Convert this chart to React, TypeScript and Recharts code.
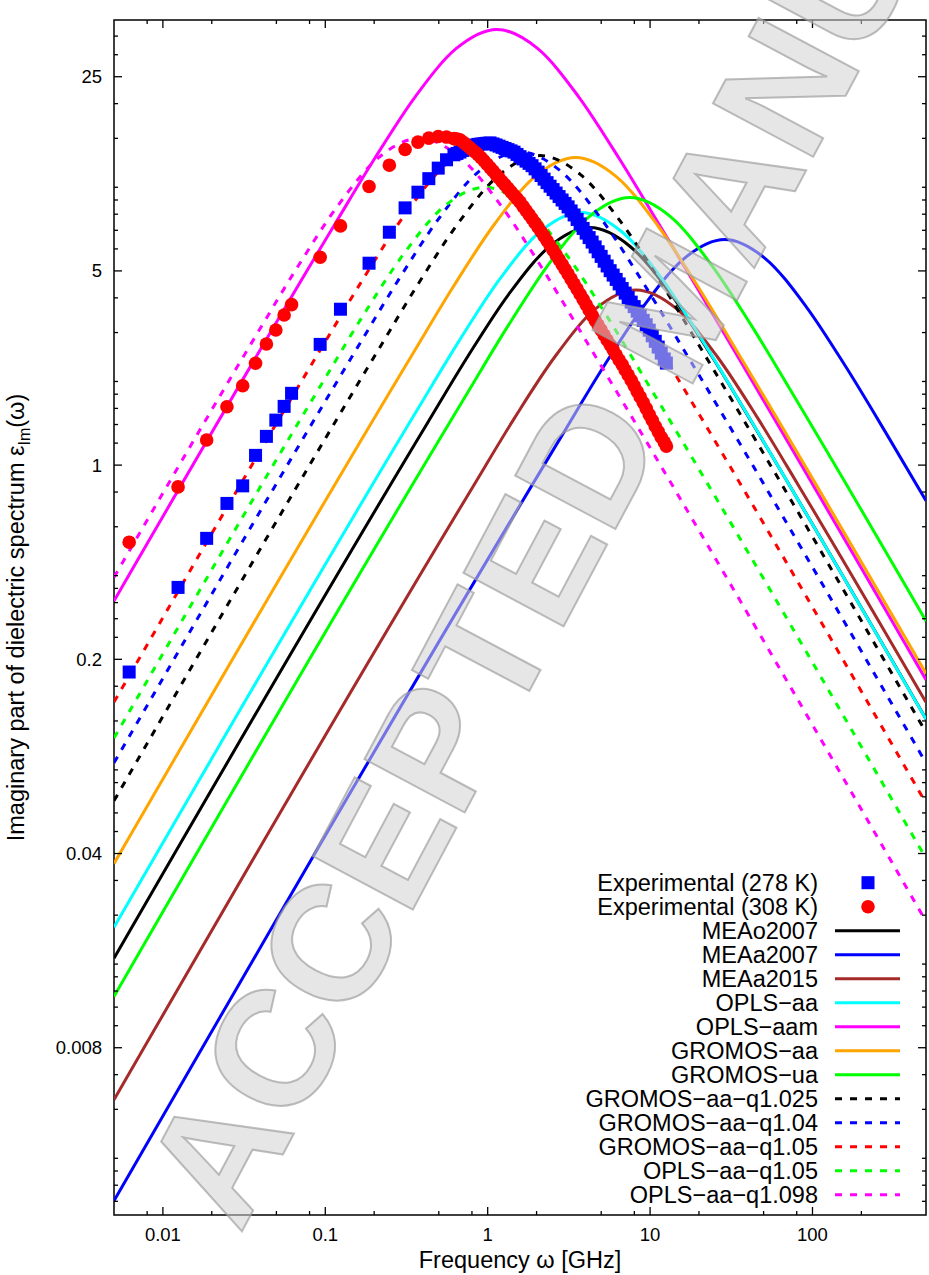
import React from "react";
import {
  ComposedChart,
  Line,
  Scatter,
  XAxis,
  YAxis,
  Legend,
  ReferenceArea,
  Label,
} from "recharts";

// plot frame in page pixels
const PLOT_TOP = 20;
const PLOT_BOTTOM = 1215;
const PLOT_LEFT = 114;
const PLOT_RIGHT = 926;
const FONT = "'Liberation Sans', Arial, Helvetica, sans-serif";

// axis ticks
const xMajor = [0.01, 0.1, 1, 10, 100];
const xMajorLabels = ["0.01", "0.1", "1", "10", "100"];
const xMinor = [0.008, 0.02, 0.05, 0.08, 0.2, 0.5, 0.8, 2, 5, 8, 20, 50, 80, 200];
const yMajor = [0.008, 0.04, 0.2, 1, 5, 25];
const yMajorLabels = ["0.008", "0.04", "0.2", "1", "5", "25"];
const yMinor = [
  0.00224, 0.00256, 0.00288, 0.0032, 0.0048, 0.0064, 0.0096, 0.0112, 0.0128,
  0.0144, 0.016, 0.024, 0.032, 0.048, 0.056, 0.064, 0.072, 0.08, 0.12, 0.16,
  0.24, 0.28, 0.32, 0.36, 0.4, 0.6, 0.8, 1.2, 1.4, 1.6, 1.8, 2, 3, 4, 6, 7, 8,
  9, 10, 15, 20, 30, 35,
];

// experimental spectra (GHz, eps'')
const expFreq = [
  0.0062, 0.0124, 0.0186, 0.0248, 0.031, 0.0372, 0.0434, 0.0496, 0.0558, 0.062,
  0.093, 0.124, 0.186, 0.248, 0.31, 0.372, 0.434, 0.496, 0.558,
  0.62, 0.647, 0.675, 0.704, 0.735, 0.767, 0.8, 0.835, 0.872, 0.91,
  0.949, 0.99, 1.034, 1.079, 1.126, 1.175, 1.226, 1.279, 1.334, 1.392,
  1.453, 1.516, 1.582, 1.651, 1.723, 1.798, 1.876, 1.958, 2.043, 2.132,
  2.225, 2.321, 2.422, 2.528, 2.638, 2.752, 2.872, 2.997, 3.128, 3.264,
  3.406, 3.554, 3.708, 3.87, 4.038, 4.214, 4.397, 4.588, 4.788, 4.997,
  5.214, 5.441, 5.677, 5.924, 6.182, 6.451, 6.732, 7.025, 7.33, 7.649,
  7.982, 8.329, 8.692, 9.07, 9.464, 9.878, 10.31, 10.76, 11.22, 11.71,
  12.22, 12.6,
];
const exp278 = [
  0.18, 0.363, 0.545, 0.728, 0.842, 1.084, 1.269, 1.452, 1.627, 1.813,
  2.72, 3.64, 5.33, 6.89, 8.43, 9.6, 10.74, 11.72, 12.56,
  13.09, 13.24, 13.39, 13.57, 13.75, 13.93, 14.12, 14.2, 14.27, 14.31,
  14.36, 14.4, 14.44, 14.32, 14.2, 14.06, 13.92, 13.79, 13.66, 13.52,
  13.38, 13.13, 12.89, 12.65, 12.42, 12.19, 11.96, 11.65, 11.34, 11.02,
  10.7, 10.39, 10.09, 9.81, 9.53, 9.26, 9.0, 8.75, 8.5, 8.22,
  7.95, 7.66, 7.38, 7.11, 6.84, 6.59, 6.35, 6.1, 5.86, 5.64,
  5.42, 5.21, 5.01, 4.83, 4.66, 4.49, 4.32, 4.16, 4.01, 3.86,
  3.72, 3.58, 3.45, 3.32, 3.2, 3.06, 2.92, 2.79, 2.66, 2.53,
  2.41, 2.33,
];
const exp308 = [
  0.528, 0.835, 1.231, 1.622, 1.931, 2.325, 2.729, 3.064, 3.47, 3.78,
  5.6, 7.26, 10.06, 12.01, 13.67, 14.54, 15.03, 15.23, 15.16,
  14.96, 14.9, 14.83, 14.55, 14.26, 13.96, 13.67, 13.39, 13.11, 12.78,
  12.46, 12.11, 11.77, 11.44, 11.11, 10.8, 10.49, 10.2, 9.91, 9.63,
  9.36, 9.1, 8.84, 8.54, 8.25, 7.97, 7.7, 7.44, 7.18, 6.92,
  6.67, 6.42, 6.17, 5.94, 5.71, 5.49, 5.28, 5.07, 4.87, 4.67,
  4.48, 4.3, 4.12, 3.95, 3.78, 3.62, 3.46, 3.32, 3.19, 3.06,
  2.94, 2.82, 2.71, 2.6, 2.49, 2.39, 2.3, 2.2, 2.11, 2.02,
  1.93, 1.84, 1.76, 1.68, 1.6, 1.52, 1.45, 1.38, 1.32, 1.26,
  1.21, 1.17,
];

// simulated spectra
const meaO2007Freq = [0.005, 0.426, 0.757, 1.347, 2.395, 4.26, 7.57, 13.47, 23.95, 42.6, 500];
const meaO2007Eps = [0.0168, 1.418, 2.47, 4.12, 6.11, 7.16, 6.11, 4.12, 2.47, 1.418, 0.122];

const meaA2007Freq = [0.005, 2.88, 5.12, 9.11, 16.19, 28.8, 51.2, 91.1, 161.9, 288, 500];
const meaA2007Eps = [0.00225, 1.285, 2.24, 3.73, 5.54, 6.49, 5.54, 3.73, 2.24, 1.285, 0.745];

const meaA2015Freq = [0.005, 0.82, 1.458, 2.593, 4.61, 8.2, 14.58, 25.93, 46.1, 82, 500];
const meaA2015Eps = [0.0052, 0.845, 1.473, 2.455, 3.65, 4.27, 3.65, 2.455, 1.473, 0.845, 0.14];

const oplsAaFreq = [0.005, 0.375, 0.667, 1.186, 2.109, 3.75, 6.67, 11.86, 21.09, 37.5, 500];
const oplsAaEps = [0.0217, 1.608, 2.8, 4.67, 6.93, 8.12, 6.93, 4.67, 2.8, 1.608, 0.1218];

const oplsAamFreq = [0.005, 0.114, 0.2027, 0.3605, 0.641, 1.14, 2.027, 3.605, 6.41, 11.4, 500];
const oplsAamEps = [0.3246, 7.33, 12.77, 21.3, 31.6, 37, 31.6, 21.3, 12.77, 7.33, 0.1687];

const gromosAaFreq = [0.005, 0.348, 0.619, 1.1, 1.957, 3.48, 6.19, 11.0, 19.57, 34.8, 500];
const gromosAaEps = [0.0368, 2.534, 4.42, 7.36, 10.93, 12.8, 10.93, 7.36, 4.42, 2.534, 0.178];

const gromosUaFreq = [0.005, 0.75, 1.334, 2.372, 4.22, 7.5, 13.34, 23.72, 42.2, 75, 500];
const gromosUaEps = [0.01224, 1.818, 3.17, 5.28, 7.84, 9.18, 7.84, 5.28, 3.17, 1.818, 0.275];

const gromosQ1025Freq = [0.005, 0.21, 0.373, 0.664, 1.181, 2.1, 3.73, 6.64, 11.81, 21, 500];
const gromosQ1025Eps = [0.0619, 2.574, 4.485, 7.475, 11.1, 13.0, 11.1, 7.475, 4.485, 2.574, 0.1092];

const gromosQ104Freq = [0.005, 0.158, 0.281, 0.4996, 0.888, 1.58, 2.81, 4.996, 8.88, 15.8, 500];
const gromosQ104Eps = [0.0848, 2.653, 4.623, 7.705, 11.44, 13.4, 11.44, 7.705, 4.623, 2.653, 0.0847];

const gromosQ105Freq = [0.005, 0.104, 0.185, 0.329, 0.585, 1.04, 1.849, 3.289, 5.848, 10.4, 500];
const gromosQ105Eps = [0.1404, 2.891, 5.037, 8.395, 12.47, 14.6, 12.47, 8.395, 5.037, 2.891, 0.0607];

const oplsQ105Freq = [0.005, 0.096, 0.1707, 0.3036, 0.54, 0.96, 1.707, 3.036, 5.4, 9.6, 500];
const oplsQ105Eps = [0.1042, 1.98, 3.45, 5.75, 8.54, 10.0, 8.54, 5.75, 3.45, 1.98, 0.0384];

const oplsQ1098Freq = [0.005, 0.038, 0.0676, 0.1202, 0.2137, 0.38, 0.676, 1.202, 2.137, 3.8, 500];
const oplsQ1098Eps = [0.3947, 2.97, 5.175, 8.625, 12.81, 15.0, 12.81, 8.625, 5.175, 2.97, 0.0228];

const toPoints = (f: number[], e: number[]) => f.map((x, i) => ({ f: x, v: e[i] }));

const experiments = [
  { name: "Experimental (278 K)", color: "#0000ff", shape: "square", data: toPoints(expFreq, exp278) },
  { name: "Experimental (308 K)", color: "#ff0000", shape: "circle", data: toPoints(expFreq, exp308) },
];

const models = [
  { name: "MEAo2007", color: "#000000", dashed: false, data: toPoints(meaO2007Freq, meaO2007Eps) },
  { name: "MEAa2007", color: "#0000ff", dashed: false, data: toPoints(meaA2007Freq, meaA2007Eps) },
  { name: "MEAa2015", color: "#a52a2a", dashed: false, data: toPoints(meaA2015Freq, meaA2015Eps) },
  { name: "OPLS\u2212aa", color: "#00ffff", dashed: false, data: toPoints(oplsAaFreq, oplsAaEps) },
  { name: "OPLS\u2212aam", color: "#ff00ff", dashed: false, data: toPoints(oplsAamFreq, oplsAamEps) },
  { name: "GROMOS\u2212aa", color: "#ffa500", dashed: false, data: toPoints(gromosAaFreq, gromosAaEps) },
  { name: "GROMOS\u2212ua", color: "#00ff00", dashed: false, data: toPoints(gromosUaFreq, gromosUaEps) },
  { name: "GROMOS\u2212aa\u2212q1.025", color: "#000000", dashed: true, data: toPoints(gromosQ1025Freq, gromosQ1025Eps) },
  { name: "GROMOS\u2212aa\u2212q1.04", color: "#0000ff", dashed: true, data: toPoints(gromosQ104Freq, gromosQ104Eps) },
  { name: "GROMOS\u2212aa\u2212q1.05", color: "#ff0000", dashed: true, data: toPoints(gromosQ105Freq, gromosQ105Eps) },
  { name: "OPLS\u2212aa\u2212q1.05", color: "#00ff00", dashed: true, data: toPoints(oplsQ105Freq, oplsQ105Eps) },
  { name: "OPLS\u2212aa\u2212q1.098", color: "#ff00ff", dashed: true, data: toPoints(oplsQ1098Freq, oplsQ1098Eps) },
];

const DASH = "7 8";

const Square = (props: any) => {
  const { cx, cy, fill } = props;
  if (cx == null || cy == null) return null;
  return <rect x={cx - 6.5} y={cy - 6.5} width={13} height={13} fill={fill} />;
};

const Dot = (props: any) => {
  const { cx, cy, fill } = props;
  if (cx == null || cy == null) return null;
  return <circle cx={cx} cy={cy} r={6.8} fill={fill} />;
};

const XTick = (props: any) => {
  const { x, payload } = props;
  const idx = xMajor.indexOf(payload.value);
  const len = idx >= 0 ? 8 : 4;
  return (
    <g>
      <line x1={x} x2={x} y1={PLOT_BOTTOM} y2={PLOT_BOTTOM - len} stroke="#000" strokeWidth={1.3} />
      <line x1={x} x2={x} y1={PLOT_TOP} y2={PLOT_TOP + len} stroke="#000" strokeWidth={1.3} />
      {idx >= 0 && (
        <text x={x} y={PLOT_BOTTOM + 26} textAnchor="middle" fontSize={18.5} fontFamily={FONT} fill="#000">
          {xMajorLabels[idx]}
        </text>
      )}
    </g>
  );
};

const YTick = (props: any) => {
  const { y, payload } = props;
  const idx = yMajor.indexOf(payload.value);
  const len = idx >= 0 ? 8 : 4;
  return (
    <g>
      <line x1={PLOT_LEFT} x2={PLOT_LEFT + len} y1={y} y2={y} stroke="#000" strokeWidth={1.3} />
      <line x1={PLOT_RIGHT} x2={PLOT_RIGHT - len} y1={y} y2={y} stroke="#000" strokeWidth={1.3} />
      {idx >= 0 && (
        <text x={102} y={y} dy="0.35em" textAnchor="end" fontSize={18.5} fontFamily={FONT} fill="#000">
          {yMajorLabels[idx]}
        </text>
      )}
    </g>
  );
};

const XTitle = () => (
  <text x={(PLOT_LEFT + PLOT_RIGHT) / 2} y={1268} textAnchor="middle" fontSize={23.5} fontFamily={FONT} fill="#000">
    Frequency ω [GHz]
  </text>
);

const YTitle = () => (
  <text
    transform={`translate(16 ${(PLOT_TOP + PLOT_BOTTOM) / 2}) rotate(-90)`}
    textAnchor="middle"
    dy="0.35em"
    fontSize={23.5}
    fontFamily={FONT}
    fill="#000"
  >
    Imaginary part of dielectric spectrum ε
    <tspan fontSize={16} dy={6}>Im</tspan>
    <tspan dy={-6}>(ω)</tspan>
  </text>
);

const KeyBox = () => {
  const rows = [
    ...experiments.map((s) => ({ name: s.name, color: s.color, kind: s.shape })),
    ...models.map((m) => ({ name: m.name, color: m.color, kind: m.dashed ? "dash" : "line" })),
  ];
  return (
    <svg width={359} height={360} style={{ display: "block" }}>
      {rows.map((r, i) => {
        const cy = 22.7 + 24 * i;
        return (
          <g key={r.name}>
            <text x={248} y={cy} dy="0.35em" textAnchor="end" fontSize={23.5} fontFamily={FONT} fill="#000">
              {r.name}
            </text>
            {r.kind === "square" && <rect x={291.5} y={cy - 6.5} width={13} height={13} fill={r.color} />}
            {r.kind === "circle" && <circle cx={298} cy={cy} r={6.8} fill={r.color} />}
            {r.kind === "line" && <line x1={265} x2={330} y1={cy} y2={cy} stroke={r.color} strokeWidth={3} />}
            {r.kind === "dash" && (
              <line x1={265} x2={330} y1={cy} y2={cy} stroke={r.color} strokeWidth={3} strokeDasharray={DASH} />
            )}
          </g>
        );
      })}
    </svg>
  );
};

const Watermark = () => (
  <svg
    width={929}
    height={1275}
    style={{ position: "absolute", left: 0, top: 0, pointerEvents: "none" }}
  >
    <text
      x={240}
      y={1235}
      transform="rotate(-62 240 1235)"
      fontSize={165}
      fontWeight={700}
      fontFamily={FONT}
      fill="#d2d2d2"
      fillOpacity={0.55}
      stroke="#9a9a9a"
      strokeOpacity={0.65}
      strokeWidth={2}
    >
      ACCEPTED MANUSCRIPT
    </text>
  </svg>
);

export default function App() {
  return (
    <div style={{ position: "absolute", left: 0, top: 0, width: 929, height: 1275, background: "#fff" }}>
      <ComposedChart
        width={929}
        height={1275}
        margin={{ top: PLOT_TOP, right: 929 - PLOT_RIGHT, bottom: 0, left: 0 }}
      >
        <XAxis
          type="number"
          dataKey="f"
          scale="log"
          domain={[0.005, 500]}
          allowDataOverflow
          ticks={[...xMajor, ...xMinor]}
          interval={0}
          tick={(p: any) => <XTick {...p} />}
          tickLine={false}
          axisLine={false}
          tickSize={0}
          tickMargin={0}
          height={1275 - PLOT_BOTTOM}
        >
          <Label content={() => <XTitle />} />
        </XAxis>
        <YAxis
          type="number"
          dataKey="v"
          scale="log"
          domain={[0.002, 40]}
          allowDataOverflow
          ticks={[...yMajor, ...yMinor]}
          interval={0}
          tick={(p: any) => <YTick {...p} />}
          tickLine={false}
          axisLine={false}
          tickSize={0}
          tickMargin={0}
          width={PLOT_LEFT}
        >
          <Label content={() => <YTitle />} />
        </YAxis>
        <ReferenceArea
          x1={0.005}
          x2={500}
          y1={0.002}
          y2={40}
          fill="none"
          stroke="#000"
          strokeWidth={1.5}
          ifOverflow="visible"
        />
        {experiments.map((s) => (
          <Scatter
            key={s.name}
            name={s.name}
            data={s.data}
            fill={s.color}
            shape={s.shape === "square" ? Square : Dot}
            isAnimationActive={false}
          />
        ))}
        {models.map((m) => (
          <Line
            key={m.name}
            name={m.name}
            data={m.data}
            dataKey="v"
            type="monotone"
            stroke={m.color}
            strokeWidth={3}
            strokeDasharray={m.dashed ? DASH : undefined}
            dot={false}
            activeDot={false}
            isAnimationActive={false}
          />
        ))}
        <Legend
          layout="vertical"
          align="center"
          verticalAlign="middle"
          content={() => <KeyBox />}
          wrapperStyle={{ position: "absolute", left: 570, top: 860, width: 359, height: 360 }}
        />
      </ComposedChart>
      <Watermark />
    </div>
  );
}
